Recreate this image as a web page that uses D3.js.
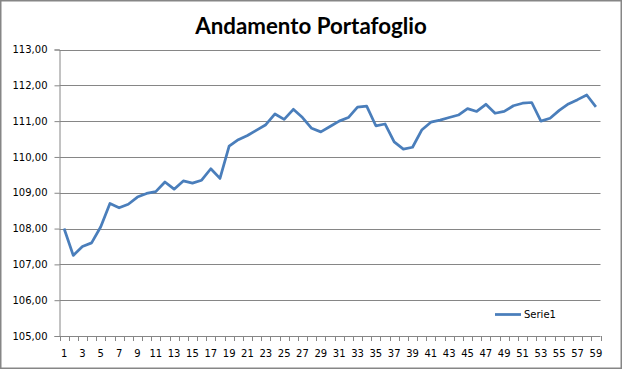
<!DOCTYPE html>
<html>
<head>
<meta charset="utf-8">
<script src="https://cdn.jsdelivr.net/npm/d3@7"></script>
<style>
  html, body { margin: 0; padding: 0; background: #fff; }
  svg { display: block; }
</style>
</head>
<body>
<svg width="623" height="370"></svg>
<script>
const width = 623, height = 370;

// chart data
const chartTitle = "Andamento Portafoglio";
const seriesName = "Serie1";
const categories = d3.range(1, 60); // 1 .. 59
const values = [
  108.00, 107.25, 107.50, 107.60, 108.05, 108.70, 108.58, 108.68, 108.88, 108.98,
  109.03, 109.30, 109.10, 109.33, 109.27, 109.35, 109.67, 109.40, 110.30, 110.48,
  110.60, 110.75, 110.90, 111.20, 111.05, 111.33, 111.10, 110.80, 110.70, 110.85,
  111.00, 111.10, 111.39, 111.42, 110.87, 110.92, 110.42, 110.22, 110.27, 110.75,
  110.97, 111.03, 111.10, 111.17, 111.35, 111.27, 111.47, 111.22, 111.27, 111.43,
  111.50, 111.52, 111.00, 111.08, 111.30, 111.48, 111.60, 111.73, 111.40
];
const yTicks = [105, 106, 107, 108, 109, 110, 111, 112, 113];
const xLabels = categories.filter(c => c % 2 === 1);

const gray = "#868686";
const lineColor = "#4a7ebb";

const svg = d3.select("svg");

// chart area border
svg.append("rect")
  .attr("x", 0.75).attr("y", 0.75)
  .attr("width", width - 2.5).attr("height", height - 2.5)
  .attr("fill", "#fff")
  .attr("stroke", gray)
  .attr("stroke-width", 1.5);

// plot area
const plot = { left: 59.5, right: 600.5, top: 49.5, bottom: 336 };

const x = d3.scaleBand()
  .domain(categories)
  .range([plot.left, plot.right])
  .paddingInner(0).paddingOuter(0);

const y = d3.scaleLinear()
  .domain([105, 113])
  .range([plot.bottom, plot.top]);

const it = d3.formatLocale({ decimal: ",", thousands: ".", grouping: [3], currency: ["", "€"] });
const fmt = it.format(".2f");

// gridlines
svg.append("g")
  .selectAll("line")
  .data(yTicks.slice(1))
  .join("line")
  .attr("x1", plot.left).attr("x2", plot.right)
  .attr("y1", d => Math.round(y(d)) + 0.5)
  .attr("y2", d => Math.round(y(d)) + 0.5)
  .attr("stroke", gray)
  .attr("stroke-width", 1);

// y axis
const yAxis = svg.append("g")
  .attr("transform", `translate(${plot.left},0)`)
  .call(d3.axisLeft(y).tickValues(yTicks).tickFormat(fmt).tickSize(5).tickPadding(7)
    .offset(0.5));
yAxis.select(".domain").attr("stroke", gray);
yAxis.selectAll(".tick line").attr("stroke", gray);
yAxis.selectAll("text")
  .attr("fill", "#000")
  .style("font-family", "'DejaVu Sans', Verdana, sans-serif")
  .style("font-size", "10px");

// x axis: tick marks at category boundaries
const xAxis = svg.append("g").attr("transform", `translate(0,${plot.bottom})`);
xAxis.append("line")
  .attr("x1", plot.left).attr("x2", plot.right)
  .attr("y1", 0.5).attr("y2", 0.5)
  .attr("stroke", gray);
xAxis.selectAll("line.tick")
  .data(categories.concat([categories.length + 1]))
  .join("line")
  .attr("class", "tick")
  .attr("x1", d => Math.round(d <= categories.length ? x(d) : plot.right) + 0.5)
  .attr("x2", d => Math.round(d <= categories.length ? x(d) : plot.right) + 0.5)
  .attr("y1", 0).attr("y2", 5)
  .attr("stroke", gray);
xAxis.selectAll("text")
  .data(xLabels)
  .join("text")
  .attr("x", d => x(d) + x.bandwidth() / 2)
  .attr("y", 21)
  .attr("text-anchor", "middle")
  .style("font-family", "'DejaVu Sans', Verdana, sans-serif")
  .style("font-size", "10px")
  .text(d => d);

// series line
const line = d3.line()
  .x((d, i) => x(categories[i]) + x.bandwidth() / 2)
  .y(d => y(d));

svg.append("path")
  .datum(values)
  .attr("d", line)
  .attr("fill", "none")
  .attr("stroke", lineColor)
  .attr("stroke-width", 2.75)
  .attr("stroke-linejoin", "round");

// title
const title = svg.append("text")
  .attr("x", 311)
  .attr("y", 34)
  .attr("text-anchor", "middle")
  .style("font-family", "Lato, 'Liberation Sans', sans-serif")
  .style("font-weight", "bold")
  .style("font-size", "22px")
  .text(chartTitle);
// fit to the width seen in the reference (~232px)
const tw = title.node().getComputedTextLength();
title.style("font-size", (22 * 232 / tw).toFixed(1) + "px");

// legend
const legend = svg.append("g").attr("transform", "translate(495,314.5)");
legend.append("line")
  .attr("x1", 0).attr("x2", 26)
  .attr("stroke", lineColor)
  .attr("stroke-width", 2.75);
legend.append("text")
  .attr("x", 29).attr("y", 3.5)
  .style("font-family", "'DejaVu Sans', Verdana, sans-serif")
  .style("font-size", "10px")
  .text(seriesName);
</script>
</body>
</html>
